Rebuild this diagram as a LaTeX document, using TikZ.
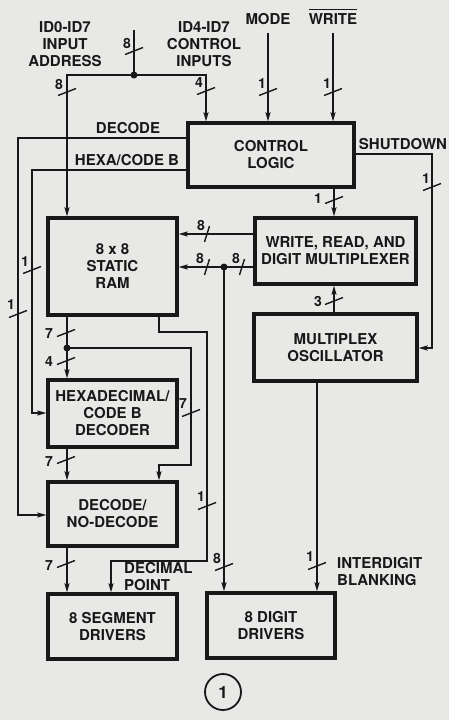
\documentclass[tikz,border=0pt]{standalone}
\usepackage{fontspec}
\setmainfont{TeX Gyre Heros}
\usetikzlibrary{arrows.meta}

\definecolor{paper}{RGB}{232,232,230}
\definecolor{ink}{RGB}{24,24,24}

\tikzset{
    block/.style={draw=ink, line width=3.3pt, align=center, inner sep=0pt,
        font=\bfseries\fontsize{15}{17}\selectfont, text=ink},
    lbl/.style={align=center, inner sep=0pt, text=ink,
        font=\bfseries\fontsize{15}{17}\selectfont},
    num/.style={inner sep=0pt, text=ink, font=\bfseries\fontsize{14}{16}\selectfont},
    sig/.style={draw=ink, line width=1.4pt},
    arr/.style={sig, -{Stealth[length=9pt, width=5pt, inset=1.5pt]}},
}

% bus width marks
\newcommand{\vslash}[1]{\draw[sig] (#1) ++(-9,3.5) -- ++(18,-7);}
\newcommand{\hslash}[1]{\draw[sig] (#1) ++(-2.5,8) -- ++(5,-16);}

\begin{document}
\begin{tikzpicture}[x=1pt, y=-1pt]

    \fill[paper] (0,0) rectangle (449,720);
    \useasboundingbox (0,0) rectangle (449,720);

    % blocks
    \node[block, minimum width=166, minimum height=64] (ctrl) at (271,155) {CONTROL\\LOGIC};
    \node[block, minimum width=129, minimum height=97] (ram) at (112.5,266.5) {8 x 8\\STATIC\\RAM};
    \node[block, minimum width=161, minimum height=66] (wrmux) at (335.5,251) {WRITE, READ, AND\\DIGIT MULTIPLEXER};
    \node[block, minimum width=163, minimum height=67] (osc) at (335.5,347.5) {MULTIPLEX\\OSCILLATOR};
    \node[block, minimum width=129, minimum height=67] (hexdec) at (112.5,413.5) {HEXADECIMAL/\\CODE B\\DECODER};
    \node[block, minimum width=129, minimum height=64] (dnd) at (112.5,514) {DECODE/\\NO-DECODE};
    \node[block, minimum width=129, minimum height=65] (segdrv) at (112.5,626.5) {8 SEGMENT\\DRIVERS};
    \node[block, minimum width=128, minimum height=65] (digdrv) at (271,625.5) {8 DIGIT\\DRIVERS};

    % signal names
    \node[lbl] (addr) at (65,44) {ID0-ID7\\INPUT\\ADDRESS};
    \node[lbl] (cin) at (204,44) {ID4-ID7\\CONTROL\\INPUTS};
    \node[lbl] (mode) at (268,19) {MODE};
    \node[lbl] (wr) at (333,19) {WRITE};
    \draw[sig] ([yshift=4pt]wr.north west) -- ([yshift=4pt]wr.north east);
    \node[lbl] (declbl) at (128,128) {DECODE};
    \node[lbl] (hexlbl) at (127,160) {HEXA/CODE B};
    \node[lbl] (shutlbl) at (403,144) {SHUTDOWN};
    \node[lbl, align=left, anchor=west] (dplbl) at (124,577) {DECIMAL\\POINT};
    \node[lbl, align=left, anchor=west] (blanklbl) at (337,572) {INTERDIGIT\\BLANKING};

    % input bus
    \coordinate (inA) at (134,30);
    \coordinate (jin) at (134,75);
    \coordinate (ramA) at (67,75);
    \coordinate (ctlA) at (206,75);
    \draw[sig] (inA) -- (jin);
    \draw[arr] (jin) -- (ramA) -- (ramA |- ram.north);
    \draw[arr] (jin) -- (ctlA) -- (ctlA |- ctrl.north);
    \fill[ink] (jin) circle (3.5);
    \vslash{134,51} \node[num] (nin) at (127,43) {8};
    \vslash{67,92} \node[num] (nram) at (59,84) {8};
    \vslash{206,91} \node[num] (nctl) at (199,83) {4};

    \draw[arr] ([yshift=-8pt]mode.south) -- (mode.south |- ctrl.north);
    \draw[arr] ([yshift=-8pt]wr.south) -- (wr.south |- ctrl.north);
    \vslash{268,92} \node[num] (nmode) at (262,84) {1};
    \vslash{333,92} \node[num] (nwr) at (327,84) {1};

    % control lines
    \draw[arr] (ctrl.west |- 0,138) -- (18,138) -- (18,515) -- (dnd.west |- 0,515);
    \vslash{18,314} \node[num] (ndec) at (11,305) {1};
    \draw[arr] (ctrl.west |- 0,170) -- (32,170) -- (32,413) -- (hexdec.west |- 0,413);
    \vslash{32,270} \node[num] (nhex) at (25,262) {1};
    \draw[arr] (ctrl.east |- 0,154) -- (432,154) -- (432,348) -- (osc.east |- 0,348);
    \vslash{432,187} \node[num] (nshut) at (426,179) {1};
    \draw[arr] (334,0 |- ctrl.south) -- (334,0 |- wrmux.north);
    \vslash{334,200} \node[num] (nlog) at (318,199) {1};
    \draw[arr] (334,0 |- osc.north) -- (334,0 |- wrmux.south);
    \vslash{334,301} \node[num] (nosc) at (318,301) {3};

    % data to and from the ram
    \draw[arr] (wrmux.west |- 0,234) -- (ram.east |- 0,234);
    \hslash{207,234} \node[num] (nwr1) at (201,225) {8};
    \coordinate (jdig) at (224,267);
    \draw[arr] (wrmux.west |- 0,267) -- (ram.east |- 0,267);
    \fill[ink] (jdig) circle (3.5);
    \hslash{207,267} \node[num] (nwr2) at (200,258) {8};
    \hslash{242,267} \node[num] (nwr3) at (236,258) {8};
    \draw[arr] (jdig) -- (jdig |- digdrv.north);
    \vslash{224,567} \node[num] (ndig) at (217,558) {8};

    \coordinate (jram) at (67,348);
    \draw[arr] (67,0 |- ram.south) -- (67,0 |- hexdec.north);
    \fill[ink] (jram) circle (3.5);
    \vslash{66,333} \node[num] (nr7) at (49,334) {7};
    \vslash{66,361} \node[num] (nh4) at (49,362) {4};
    \draw[arr] (jram) -- (191,348) -- (191,465) -- (159,465) -- (159,0 |- dnd.north);
    \vslash{191,413} \node[num] (nby) at (183,404) {7};
    \draw[arr] (159,0 |- ram.south) -- (159,332) -- (207,332) -- (207,561) -- (111,561) -- (111,0 |- segdrv.north);
    \vslash{207,506} \node[num] (ndp) at (201,497) {1};

    \draw[arr] (67,0 |- hexdec.south) -- (67,0 |- dnd.north);
    \vslash{66,460} \node[num] (nh7) at (49,462) {7};
    \draw[arr] (67,0 |- dnd.south) -- (67,0 |- segdrv.north);
    \vslash{66,564} \node[num] (nseg) at (49,566) {7};
    \draw[arr] (317,0 |- osc.south) -- (317,0 |- digdrv.north);
    \vslash{317,566} \node[num] (nblank) at (310,557) {1};

    \node[draw=ink, circle, line width=1.8pt, minimum size=36, inner sep=0pt,
        text=ink, font=\bfseries\fontsize{17}{17}\selectfont] (fignum) at (223,692) {1};

\end{tikzpicture}
\end{document}
